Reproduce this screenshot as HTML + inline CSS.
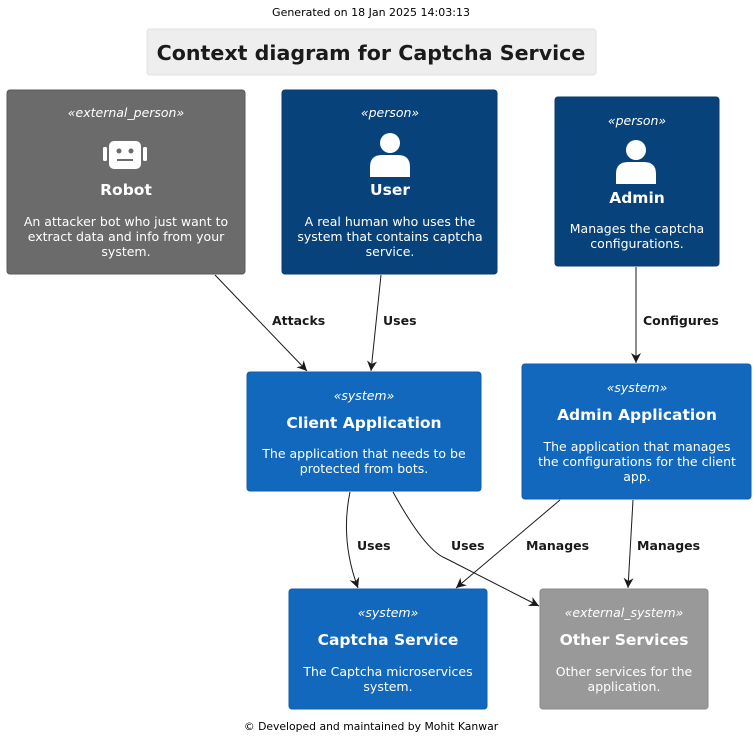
<!DOCTYPE html>
<html><head><meta charset="utf-8"><style>
html,body{margin:0;padding:0;background:#fff}
svg{display:block}
text{font-family:"DejaVu Sans","Liberation Sans",sans-serif}
.st{font-size:12.5px;font-style:italic;fill:#fff}
.nm{font-size:15.5px;font-weight:bold;fill:#fff}
.ds{font-size:12.5px;fill:#fff}
.lb{font-size:12.5px;font-weight:bold;fill:#1a1a1a}
.ln{stroke:#1a1a1a;stroke-width:1;fill:none}
</style></head><body>
<svg width="756" height="744" viewBox="0 0 756 744" xmlns="http://www.w3.org/2000/svg">
<defs><marker id="a" viewBox="0 0 10 10" refX="10" refY="5" markerWidth="10" markerHeight="10" orient="auto" markerUnits="userSpaceOnUse"><path d="M0,0 L10,5 L0,10 L3,5 z" fill="#1a1a1a"/></marker></defs>
<text x="371" y="16" text-anchor="middle" font-size="11" fill="#000">Generated on 18 Jan 2025  14:03:13</text>
<rect x="147" y="29" width="449" height="46" rx="3" fill="#eeeeee" stroke="#e2e2e2"/>
<text x="371" y="60" text-anchor="middle" font-size="20.6" font-weight="bold" fill="#1a1a1a">Context diagram for Captcha Service</text>

<rect x="7" y="90" width="238" height="184" rx="3" fill="#6b6b6b" stroke="#5a5a5a"/>
<text class="st" x="126" y="117" text-anchor="middle">«external_person»</text>
<rect x="109" y="141" width="32" height="28" rx="5" fill="#fff"/>
<rect x="103" y="147" width="4" height="14" rx="1.5" fill="#fff"/>
<rect x="143" y="147" width="4" height="14" rx="1.5" fill="#fff"/>
<circle cx="119" cy="151" r="2.5" fill="#6b6b6b"/><circle cx="131" cy="151" r="2.5" fill="#6b6b6b"/>
<rect x="117" y="159" width="16" height="2" fill="#6b6b6b"/>
<text class="nm" x="126" y="195" text-anchor="middle">Robot</text>
<text class="ds" x="126" y="226" text-anchor="middle">An attacker bot who just want to</text>
<text class="ds" x="126" y="241" text-anchor="middle">extract data and info from your</text>
<text class="ds" x="126" y="256" text-anchor="middle">system.</text>

<rect x="282" y="90" width="215" height="184" rx="3" fill="#08427b" stroke="#073b6f"/>
<text class="st" x="390" y="117" text-anchor="middle">«person»</text>
<circle cx="390" cy="143" r="10" fill="#fff"/>
<path d="M370,177 L370,167 Q370,155 382,155 L398,155 Q410,155 410,167 L410,177 Z" fill="#fff"/>
<text class="nm" x="390" y="195" text-anchor="middle">User</text>
<text class="ds" x="390" y="226" text-anchor="middle">A real human who uses the</text>
<text class="ds" x="390" y="241" text-anchor="middle">system that contains captcha</text>
<text class="ds" x="390" y="256" text-anchor="middle">service.</text>

<rect x="555" y="97" width="164" height="169" rx="3" fill="#08427b" stroke="#073b6f"/>
<text class="st" x="637" y="125" text-anchor="middle">«person»</text>
<circle cx="636" cy="150" r="10" fill="#fff"/>
<path d="M616,184 L616,174 Q616,162 628,162 L644,162 Q656,162 656,174 L656,184 Z" fill="#fff"/>
<text class="nm" x="637" y="203" text-anchor="middle">Admin</text>
<text class="ds" x="637" y="233" text-anchor="middle">Manages the captcha</text>
<text class="ds" x="637" y="248" text-anchor="middle">configurations.</text>

<rect x="247" y="372" width="234" height="119" rx="3" fill="#1168bd" stroke="#0f5eaa"/>
<text class="st" x="364" y="400" text-anchor="middle">«system»</text>
<text class="nm" x="364" y="428" text-anchor="middle">Client Application</text>
<text class="ds" x="364" y="458" text-anchor="middle">The application that needs to be</text>
<text class="ds" x="364" y="473" text-anchor="middle">protected from bots.</text>

<rect x="522" y="364" width="229" height="135" rx="3" fill="#1168bd" stroke="#0f5eaa"/>
<text class="st" x="637" y="392" text-anchor="middle">«system»</text>
<text class="nm" x="637" y="420" text-anchor="middle">Admin Application</text>
<text class="ds" x="637" y="451" text-anchor="middle">The application that manages</text>
<text class="ds" x="637" y="466" text-anchor="middle">the configurations for the client</text>
<text class="ds" x="637" y="481" text-anchor="middle">app.</text>

<rect x="289" y="589" width="198" height="120" rx="3" fill="#1168bd" stroke="#0f5eaa"/>
<text class="st" x="388" y="617" text-anchor="middle">«system»</text>
<text class="nm" x="388" y="645" text-anchor="middle">Captcha Service</text>
<text class="ds" x="388" y="676" text-anchor="middle">The Captcha microservices</text>
<text class="ds" x="388" y="691" text-anchor="middle">system.</text>

<rect x="540" y="589" width="168" height="120" rx="3" fill="#999999" stroke="#8a8a8a"/>
<text class="st" x="624" y="617" text-anchor="middle">«external_system»</text>
<text class="nm" x="624" y="645" text-anchor="middle">Other Services</text>
<text class="ds" x="624" y="676" text-anchor="middle">Other services for the</text>
<text class="ds" x="624" y="691" text-anchor="middle">application.</text>

<path class="ln" d="M215,275 L307,371" marker-end="url(#a)"/>
<text class="lb" x="272" y="325">Attacks</text>
<path class="ln" d="M381,275 L371,371" marker-end="url(#a)"/>
<text class="lb" x="383" y="325">Uses</text>
<path class="ln" d="M636,267 L636,363" marker-end="url(#a)"/>
<text class="lb" x="643" y="325">Configures</text>
<path class="ln" d="M350,492 Q340,540 358,588" marker-end="url(#a)"/>
<text class="lb" x="357" y="550">Uses</text>
<path class="ln" d="M393,492 Q425,550 445,558 L539,606" marker-end="url(#a)"/>
<text class="lb" x="451" y="550">Uses</text>
<path class="ln" d="M560,500 L456,588" marker-end="url(#a)"/>
<text class="lb" x="526" y="550">Manages</text>
<path class="ln" d="M633,500 L628,588" marker-end="url(#a)"/>
<text class="lb" x="637" y="550">Manages</text>

<text x="371" y="730" text-anchor="middle" font-size="10.8" fill="#000">© Developed and maintained by Mohit Kanwar</text>
</svg>
</body></html>
